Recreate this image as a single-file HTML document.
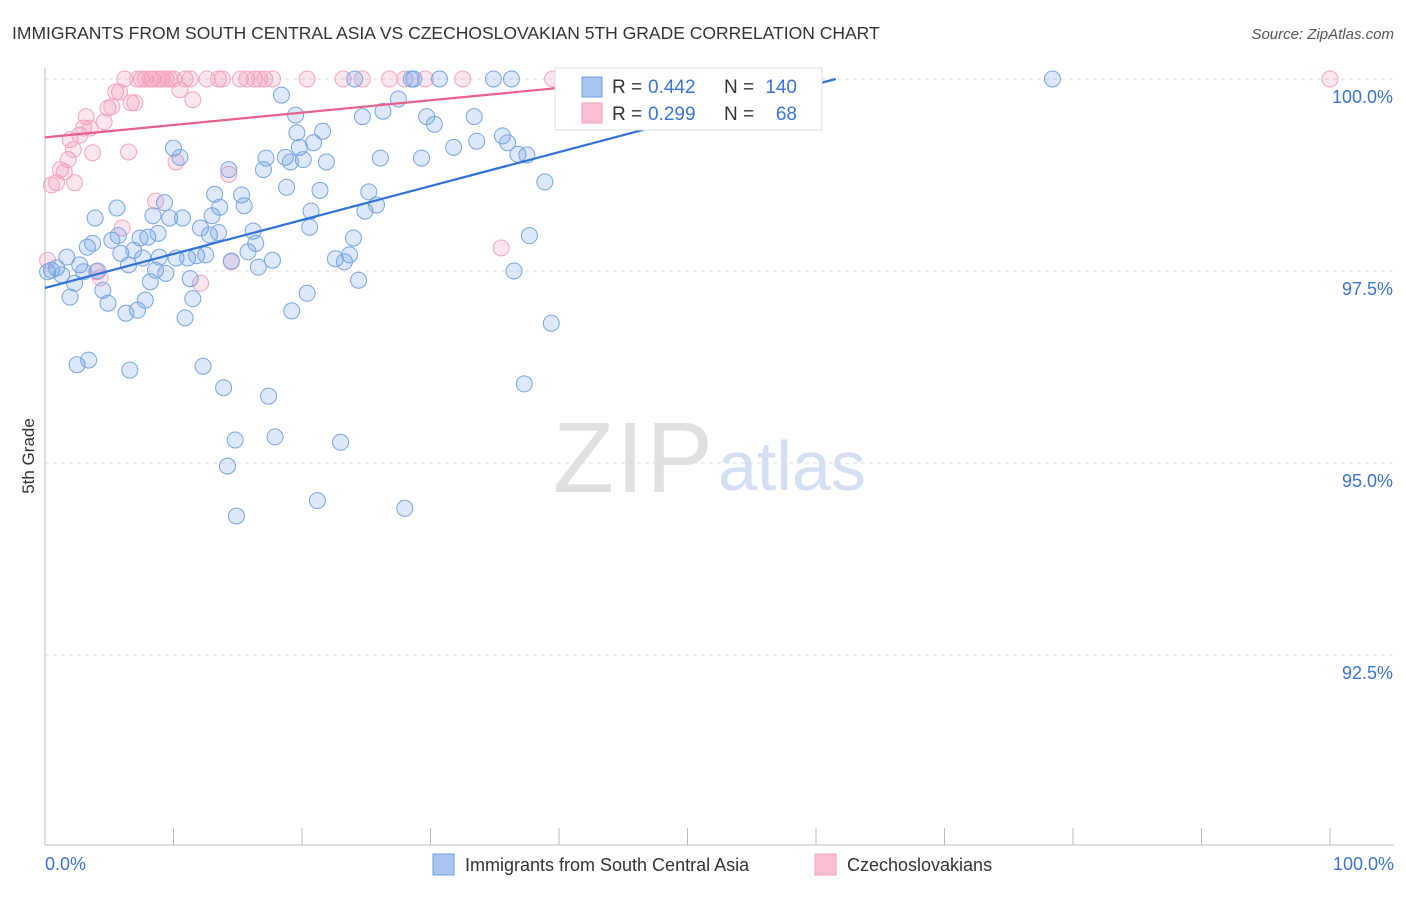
<!DOCTYPE html>
<html><head><meta charset="utf-8">
<style>
body{margin:0;background:#fff;font-family:"Liberation Sans",sans-serif;}
svg text{font-family:"Liberation Sans",sans-serif;}
</style></head>
<body>
<svg id="chart" width="1406" height="892" xmlns="http://www.w3.org/2000/svg">
<text x="12" y="39" font-size="17.5" fill="#333">IMMIGRANTS FROM SOUTH CENTRAL ASIA VS CZECHOSLOVAKIAN 5TH GRADE CORRELATION CHART</text>
<text x="1394" y="39" font-size="15" fill="#555" text-anchor="end" font-style="italic">Source: ZipAtlas.com</text>
<text x="553" y="492" font-size="100" fill="#e0e0e0" font-family="Liberation Serif" textLength="160">ZIP</text>
<text x="718" y="490" font-size="70" fill="#d3e0f3">atlas</text>
<text x="34" y="456" font-size="17" fill="#333" transform="rotate(-90 34 456)" text-anchor="middle">5th Grade</text>
<g id="grid"></g><g id="axes"></g><g id="pts"></g><g id="lines"></g>
<g>
<rect x="555" y="68" width="267" height="62" fill="#fff" stroke="#ddd"/>
<rect x="582" y="77" width="20" height="20" fill="#a9c6f0" stroke="#6fa0e0"/>
<text x="612" y="93" font-size="19" fill="#333">R =</text>
<text x="648" y="93" font-size="19" fill="#3a74d8">0.442</text>
<text x="724" y="93" font-size="19" fill="#333">N =</text>
<text x="797" y="93" font-size="19" fill="#3a74d8" text-anchor="end">140</text>
<rect x="582" y="103" width="20" height="20" fill="#f8c0d2" stroke="#f0a0bc"/>
<text x="612" y="120" font-size="19" fill="#333">R =</text>
<text x="648" y="120" font-size="19" fill="#3a74d8">0.299</text>
<text x="724" y="120" font-size="19" fill="#333">N =</text>
<text x="797" y="120" font-size="19" fill="#3a74d8" text-anchor="end">68</text>
</g>
<g>
<rect x="433" y="854" width="21" height="21" fill="#a9c6f0" stroke="#6fa0e0"/>
<text x="465" y="871" font-size="18" fill="#333">Immigrants from South Central Asia</text>
<rect x="815" y="854" width="21" height="21" fill="#f8c0d2" stroke="#f0a0bc"/>
<text x="847" y="871" font-size="18" fill="#333">Czechoslovakians</text>
</g>
</svg>
<script>
const yTicks=[100,97.5,95,92.5];
const yTickLabels=["100.0%","97.5%","95.0%","92.5%"];
const xTickLabels=["0.0%","100.0%"];
const blueX=[0.2,0.5,0.9,1.3,1.7,1.95,2.3,2.5,2.7,3.0,3.3,3.4,3.7,3.9,4.1,4.5,4.9,5.2,5.6,5.7,5.9,6.3,6.5,6.6,6.9,7.2,7.4,7.6,7.8,8.0,8.2,8.4,8.6,8.8,8.9,9.3,9.4,9.7,10.0,10.2,10.5,10.7,10.9,11.1,11.3,11.5,11.8,12.1,12.3,12.5,12.8,13.0,13.2,13.5,13.6,13.9,14.2,14.3,14.5,14.8,14.9,15.3,15.5,15.8,16.2,16.4,16.6,17.0,17.2,17.4,17.7,17.9,18.4,18.7,18.8,19.1,19.2,19.5,19.6,19.8,20.1,20.4,20.6,20.7,20.9,21.2,21.4,21.6,21.9,22.6,23.0,23.3,23.7,24.0,24.1,24.4,24.7,24.9,25.2,25.8,26.1,26.3,27.5,28.0,28.5,28.7,29.3,29.7,30.3,30.7,31.8,33.4,33.6,34.9,35.6,36.0,36.3,36.5,36.8,37.3,37.5,37.7,38.9,39.4,78.4];
const blueY=[97.49,97.51,97.54,97.45,97.68,97.16,97.34,96.28,97.58,97.49,97.81,96.34,97.86,98.19,97.50,97.25,97.08,97.90,98.32,97.96,97.73,96.95,97.58,96.21,97.77,96.99,97.93,97.67,97.12,97.94,97.36,98.22,97.51,97.99,97.68,98.39,97.47,98.19,99.10,97.67,98.98,98.19,96.89,97.67,97.40,97.14,97.70,98.06,96.26,97.71,97.97,98.22,98.50,98.00,98.33,95.98,94.96,98.82,97.63,95.30,94.31,98.49,98.35,97.75,98.02,97.86,97.55,98.82,98.97,95.87,97.64,95.34,99.79,98.98,98.59,98.92,96.98,99.53,99.30,99.11,98.95,97.21,98.07,98.28,99.17,94.51,98.55,99.32,98.92,97.66,95.27,97.62,97.71,97.93,100,97.38,99.51,98.28,98.53,98.36,98.97,99.58,99.74,94.41,100,100,98.97,99.51,99.41,100,99.11,99.51,99.19,100,99.26,99.17,100,97.50,99.02,96.03,99.01,97.96,98.66,96.82,100];
const pinkX=[0.2,0.5,0.9,1.2,1.5,1.8,1.95,2.2,2.3,2.7,3.0,3.2,3.5,3.7,4.0,4.3,4.6,4.9,5.2,5.5,5.8,6.0,6.2,6.5,6.7,7.0,7.2,7.5,7.8,8.2,8.4,8.6,8.8,9.1,9.4,9.7,10.0,10.2,10.5,10.9,11.3,11.5,12.1,12.6,13.5,13.8,14.3,14.5,15.2,15.7,16.3,16.7,17.1,17.7,20.4,23.2,24.7,26.8,28.0,29.6,32.5,35.5,39.5,100];
const pinkY=[97.64,98.62,98.65,98.82,98.79,98.95,99.21,99.08,98.65,99.27,99.36,99.51,99.36,99.04,97.49,97.41,99.44,99.62,99.64,99.83,99.83,98.06,100,99.05,99.69,99.69,100,100,100,100,100,98.41,100,100,100,100,100,98.92,99.86,100,100,99.73,97.34,100,100,100,98.76,97.62,100,100,100,100,100,100,100,100,100,100,100,100,100,97.80,100,100];
const blueFit=[97.28,0.0442];
const pinkFit=[99.24,0.0161];
const NS="http://www.w3.org/2000/svg";
const X=v=>45+v*12.85, Y=v=>79+(100-v)*76.8;
function mk(tag,attrs,parent){const e=document.createElementNS(NS,tag);for(const k in attrs)e.setAttribute(k,attrs[k]);parent.appendChild(e);return e;}
const grid=document.getElementById('grid'),axes=document.getElementById('axes'),pts=document.getElementById('pts'),lines=document.getElementById('lines');
yTicks.forEach((t,i)=>{
 const l=mk('line',{x1:45,x2:1394,y1:Y(t),y2:Y(t),stroke:'#ddd','stroke-dasharray':'4,4'},grid);
 
 
 const tx=mk('text',{x:1393,y:Y(t)+24,'font-size':18,fill:'#3a74d8','text-anchor':'end'},grid);
 tx.textContent=yTickLabels[i];
 
 
});
const ax=mk('line',{x1:45,x2:1394,y1:845,y2:845,stroke:'#bbb'},axes);


const ay=mk('line',{x1:45,x2:45,y1:68,y2:845,stroke:'#bbb'},axes);


for(let i=0;i<=10;i++){const t=mk('line',{x1:X(i*10),x2:X(i*10),y1:828,y2:845,stroke:'#bbb'},axes);
 
 }
[[0,'start',45],[100,'end',1394]].forEach((d,i)=>{const t=mk('text',{x:d[2],y:870,'font-size':18,fill:'#3a74d8','text-anchor':d[1]},axes);t.textContent=xTickLabels[i];
 
 });
pinkX.forEach((x,i)=>{const c=mk('circle',{cx:X(x),cy:Y(pinkY[i]),r:8,fill:'rgba(240,140,175,0.22)',stroke:'#f2a6c0','stroke-width':1},pts);
 
 });
blueX.forEach((x,i)=>{const c=mk('circle',{cx:X(x),cy:Y(blueY[i]),r:8,fill:'rgba(100,150,230,0.22)',stroke:'#78a6e2','stroke-width':1},pts);
 
 });
let bEnd=(100-blueFit[0])/blueFit[1];
const bl=mk('line',{x1:X(0),y1:Y(blueFit[0]),x2:X(bEnd),y2:Y(100),stroke:'#2f72d8','stroke-width':2.2},lines);


const pe=41;
const pl=mk('line',{x1:X(0),y1:Y(pinkFit[0]),x2:X(pe),y2:Y(pinkFit[0]+pinkFit[1]*pe),stroke:'#e8608c','stroke-width':2.2},lines);


</script>
</body></html>
